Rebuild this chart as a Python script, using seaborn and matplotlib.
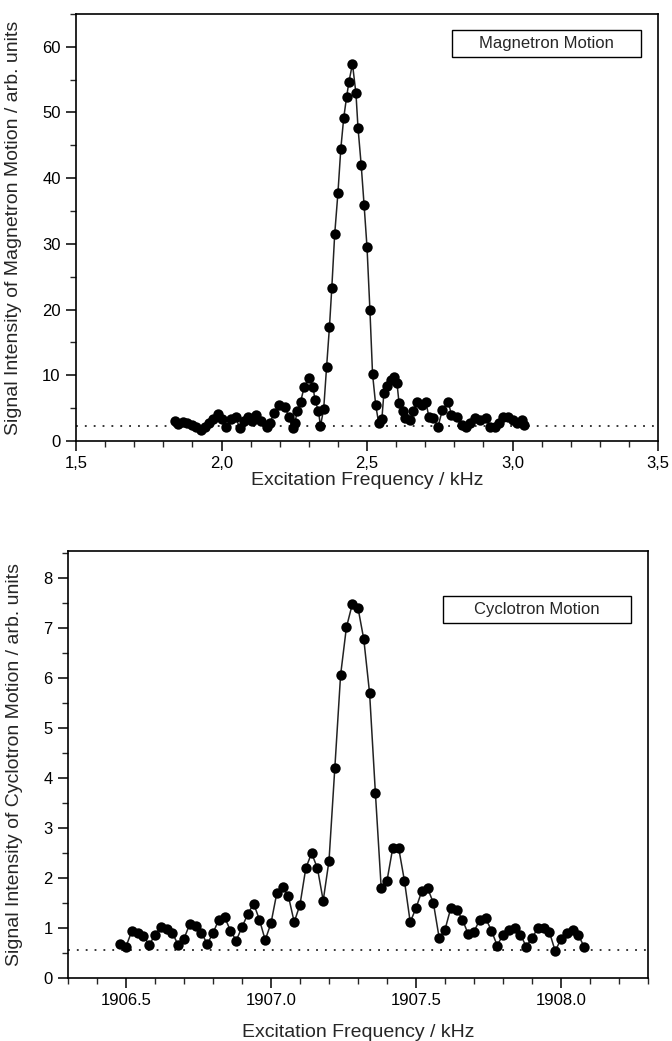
import numpy as np
import pandas as pd
import matplotlib
matplotlib.use("Agg")
import matplotlib.pyplot as plt
import seaborn as sns
from matplotlib.ticker import MultipleLocator, FuncFormatter
from matplotlib.patches import Rectangle

# magnetron scan (kHz, arb. units)
mag_freq = [1.840, 1.851, 1.866, 1.880, 1.897, 1.911, 1.928, 1.942, 1.957, 1.971,
            1.988, 2.003, 2.017, 2.032, 2.049, 2.063, 2.076, 2.091, 2.106, 2.120,
            2.137, 2.155, 2.166, 2.180, 2.198, 2.218, 2.232, 2.244, 2.252, 2.260,
            2.272, 2.284, 2.301, 2.315, 2.321, 2.333, 2.340, 2.351, 2.361, 2.371,
            2.379, 2.389, 2.400, 2.410, 2.420, 2.430, 2.438, 2.450, 2.462, 2.469,
            2.480, 2.490, 2.500, 2.510, 2.519, 2.530, 2.540, 2.551, 2.558, 2.570,
            2.581, 2.593, 2.603, 2.610, 2.622, 2.630, 2.647, 2.659, 2.671, 2.688,
            2.702, 2.713, 2.727, 2.744, 2.759, 2.779, 2.790, 2.808, 2.825, 2.840,
            2.853, 2.871, 2.888, 2.908, 2.922, 2.939, 2.954, 2.968, 2.985, 3.000,
            3.014, 3.031, 3.039]
mag_signal = [3.1, 2.6, 2.9, 2.7, 2.4, 2.2, 1.7, 2.2, 2.7, 3.3,
              4.1, 3.3, 2.2, 3.3, 3.6, 1.9, 3.1, 3.6, 3.1, 4.0,
              3.1, 2.2, 2.7, 4.2, 5.5, 5.2, 3.6, 1.9, 2.7, 4.5,
              6.0, 8.2, 9.6, 8.2, 6.2, 4.6, 2.3, 4.8, 11.2, 17.4,
              23.3, 31.5, 37.7, 44.5, 49.2, 52.4, 54.7, 57.4, 52.9, 47.7,
              42.0, 35.9, 29.5, 19.9, 10.2, 5.4, 2.8, 3.3, 7.3, 8.3,
              9.3, 9.7, 8.8, 5.8, 4.6, 3.5, 3.2, 4.5, 6.0, 5.5,
              6.0, 3.6, 3.5, 2.2, 4.7, 6.0, 4.0, 3.7, 2.4, 2.2,
              2.7, 3.5, 3.2, 3.5, 2.2, 2.1, 2.7, 3.6, 3.6, 3.2,
              2.7, 3.2, 2.4]
mag_baseline = 2.35

# cyclotron scan (kHz, arb. units)
cyc_freq = [1906.48, 1906.50, 1906.52, 1906.54, 1906.56, 1906.58, 1906.60, 1906.62,
            1906.64, 1906.66, 1906.68, 1906.70, 1906.72, 1906.74, 1906.76, 1906.78,
            1906.80, 1906.82, 1906.84, 1906.86, 1906.88, 1906.90, 1906.92, 1906.94,
            1906.96, 1906.98, 1907.00, 1907.02, 1907.04, 1907.06, 1907.08, 1907.10,
            1907.12, 1907.14, 1907.16, 1907.18, 1907.20, 1907.22, 1907.24, 1907.26,
            1907.28, 1907.30, 1907.32, 1907.34, 1907.36, 1907.38, 1907.40, 1907.42,
            1907.44, 1907.46, 1907.48, 1907.50, 1907.52, 1907.54, 1907.56, 1907.58,
            1907.60, 1907.62, 1907.64, 1907.66, 1907.68, 1907.70, 1907.72, 1907.74,
            1907.76, 1907.78, 1907.80, 1907.82, 1907.84, 1907.86, 1907.88, 1907.90,
            1907.92, 1907.94, 1907.96, 1907.98, 1908.00, 1908.02, 1908.04, 1908.06,
            1908.08]
cyc_signal = [0.69, 0.63, 0.94, 0.91, 0.85, 0.66, 0.87, 1.02, 0.98, 0.90,
              0.66, 0.79, 1.08, 1.04, 0.91, 0.68, 0.90, 1.17, 1.22, 0.95,
              0.75, 1.02, 1.28, 1.49, 1.17, 0.76, 1.10, 1.70, 1.82, 1.64,
              1.12, 1.47, 2.20, 2.50, 2.20, 1.55, 2.35, 4.20, 6.07, 7.02,
              7.48, 7.41, 6.78, 5.70, 3.70, 1.80, 1.95, 2.61, 2.61, 1.95,
              1.12, 1.40, 1.74, 1.80, 1.50, 0.80, 0.97, 1.40, 1.37, 1.17,
              0.88, 0.93, 1.17, 1.20, 0.95, 0.65, 0.87, 0.96, 1.00, 0.87,
              0.63, 0.80, 1.00, 1.00, 0.92, 0.54, 0.78, 0.90, 0.97, 0.86,
              0.62]
cyc_baseline = 0.57

sns.set_style("ticks")
plt.rcParams['font.family'] = ['Liberation Sans', 'DejaVu Sans']
plt.rcParams['axes.linewidth'] = 1.2
plt.rcParams['xtick.major.width'] = 1.1
plt.rcParams['ytick.major.width'] = 1.1
plt.rcParams['xtick.minor.width'] = 1.0
plt.rcParams['ytick.minor.width'] = 1.0
plt.rcParams['xtick.major.size'] = 7
plt.rcParams['ytick.major.size'] = 7
plt.rcParams['xtick.minor.size'] = 4
plt.rcParams['ytick.minor.size'] = 4

fig = plt.figure(figsize=(6.72, 10.41), dpi=100)
ax1 = fig.add_axes([0.1131, 0.5764, 0.8661, 0.4102])
ax2 = fig.add_axes([0.1012, 0.0605, 0.8631, 0.4102])

mag = pd.DataFrame({'freq': mag_freq, 'signal': mag_signal})
cyc = pd.DataFrame({'freq': cyc_freq, 'signal': cyc_signal})


def draw(ax, df, base, label, box_y):
    sns.lineplot(data=df, x='freq', y='signal', ax=ax, color='#222222',
                 linewidth=1.1, sort=False, estimator=None)
    sns.scatterplot(data=df, x='freq', y='signal', ax=ax, color='black',
                    s=56, edgecolor='black', linewidth=0, zorder=3)
    ax.axhline(base, color='black', linestyle=(0, (1.2, 4.6)), linewidth=1.1, zorder=1)
    ax.tick_params(labelsize=12, direction='out', colors='black', pad=4)
    for sp in ax.spines.values():
        sp.set_color('black')
    # label box in the upper right corner
    ax.add_patch(Rectangle((0.646, box_y), 0.325, 0.0635, transform=ax.transAxes,
                           facecolor='white', edgecolor='black', linewidth=1.0, zorder=4))
    ax.text(0.8085, box_y + 0.032, label, transform=ax.transAxes, ha='center',
            va='center', fontsize=12, zorder=5)


draw(ax1, mag, mag_baseline, "Magnetron Motion", 0.899)
ax1.set_xlim(1.5, 3.5)
ax1.set_ylim(0, 65)
ax1.xaxis.set_major_locator(MultipleLocator(0.5))
ax1.xaxis.set_minor_locator(MultipleLocator(0.1))
ax1.yaxis.set_major_locator(MultipleLocator(10))
ax1.yaxis.set_minor_locator(MultipleLocator(5))
ax1.xaxis.set_major_formatter(FuncFormatter(lambda v, p: f"{v:.1f}".replace('.', ',')))
ax1.set_xlabel("Excitation Frequency / kHz", fontsize=14, labelpad=0.5)
ax1.set_ylabel("Signal Intensity of Magnetron Motion / arb. units", fontsize=14)
ax1.yaxis.set_label_coords(-0.093, 0.5)

draw(ax2, cyc, cyc_baseline, "Cyclotron Motion", 0.832)
ax2.set_xlim(1906.3, 1908.3)
ax2.set_ylim(0, 8.55)
ax2.xaxis.set_major_locator(MultipleLocator(0.5))
ax2.xaxis.set_minor_locator(MultipleLocator(0.1))
ax2.yaxis.set_major_locator(MultipleLocator(1))
ax2.yaxis.set_minor_locator(MultipleLocator(0.5))
ax2.xaxis.set_major_formatter(FuncFormatter(lambda v, p: f"{v:.1f}"))
ax2.set_xlabel("Excitation Frequency / kHz", fontsize=14, labelpad=11)
ax2.set_ylabel("Signal Intensity of Cyclotron Motion / arb. units", fontsize=14)
ax2.yaxis.set_label_coords(-0.078, 0.5)

fig.savefig("out.png", dpi=100)
